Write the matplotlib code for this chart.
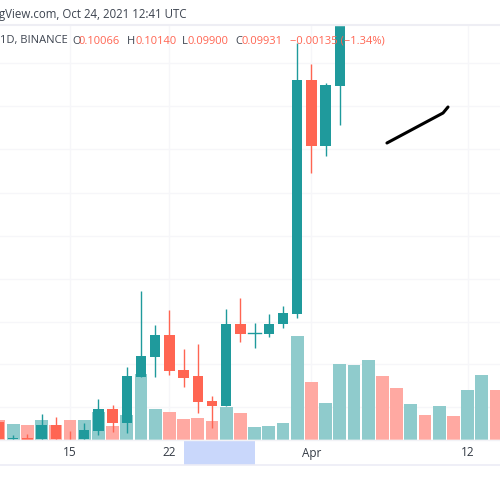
import matplotlib
matplotlib.use("Agg")
import matplotlib.pyplot as plt

plt.rcParams['font.family'] = ['Open Sans', 'DejaVu Sans']

TEAL = '#1f9a9c'
RED = '#ff6552'
VOL_TEAL = '#8fcbcc'
VOL_RED = '#ffa9a2'
GRID = '#f6f6f9'
FOOT = 440.0

# Day numbers counted from 1 March; prices and volumes in chart units
days = list(range(10, 35))
opens = [18, 1, 2, 1, 15, 0.5, 1, 9, 31, 17, 63, 83, 105, 70, 64, 39, 34, 116, 107, 106, 116, 126, 360, 294, 354]
closes = [1, 2.5, 0.5, 15, 1, 0, 10, 31, 17, 64, 84, 105, 69, 62, 38, 34, 116, 106, 107, 116, 127, 360, 294, 355, 460]
highs = [20, 5, 6, 26, 23, 9, 17, 41, 35, 73, 149, 115, 130, 91, 96, 44, 131, 142, 117, 126, 134, 397, 376, 357, 460]
lows = [0, 0, 0, 0, 0, 0, 0, 5, 8, 7, 63, 63, 65, 53, 27, 12, 34, 98, 92, 103, 112, 122, 267, 284, 315]

vol_days = list(range(10, 46))
vol_values = [20, 16, 15, 20, 15, 20, 20, 28, 14, 25, 66, 31, 28, 21, 22, 19, 33, 27,
              13, 14, 17, 104, 58, 37, 76, 75, 80, 64, 52, 36, 25, 34, 24, 50, 65, 50]
vol_up = [0, 1, 0, 1, 0, 0, 1, 1, 0, 1, 1, 1, 0, 0, 0, 0, 1, 0,
          1, 1, 1, 1, 0, 1, 1, 1, 1, 0, 0, 1, 0, 1, 0, 1, 1, 0]

grid_levels = [33, 76, 118, 161, 204, 247, 291, 334, 377]
tick_days = [15, 22, 32, 43]
tick_labels = ['15', '22', 'Apr', '12']
highlight_days = [23.0, 28.0]
drawing_days = [37.32, 41.27, 41.62]
drawing_levels = [297, 327, 333]

fig = plt.figure(figsize=(5, 5), dpi=100)
ax = fig.add_axes([0, 0, 1, 1])
d0 = 15 - 70 / 14.2
ax.set_xlim(d0, d0 + 500 / 14.2)
ax.set_ylim(FOOT - 500, FOOT)
ax.axis('off')

def px(x):
    return d0 + x / 14.2

for lv in grid_levels:
    ax.axhline(lv, color=GRID, lw=1.0, zorder=1)
for d in tick_days:
    ax.plot([d, d], [0, 415], color=GRID, lw=1.0, zorder=1)

# Volume
ax.bar(vol_days, vol_values, width=0.9,
       color=[VOL_TEAL if u else VOL_RED for u in vol_up], zorder=2)

# Candles
for d, o, h, l, c in zip(days, opens, highs, lows, closes):
    col = TEAL if c >= o else RED
    ax.plot([d, d], [l, h], color=col, lw=1.0, zorder=3, solid_capstyle='butt')
    lo, hi = min(o, c), max(o, c)
    ax.bar(d, hi - lo, bottom=lo, width=0.74, color=col, zorder=4)
# doji on day 28
ax.plot([27.55, 28.45], [107, 107], color=TEAL, lw=1.0, zorder=4)

# Hand-drawn trend stroke
ax.plot(drawing_days, drawing_levels, color='black', lw=2.2, zorder=6,
        solid_capstyle='round', solid_joinstyle='round')

# Header band covers what rises above the pane
ax.fill_between([d0, d0 + 36], 415, 440, color='white', zorder=5)
ax.axhline(415, color='#eeeef4', lw=1.5, zorder=6)

# Time axis band
ax.fill_between([d0, d0 + 36], -25, 0, color='white', zorder=5)
ax.fill_between(highlight_days, -25, 0, color='#c9d7fb', zorder=6, lw=0)
ax.axhline(0, color='#f2f2f6', lw=1, zorder=7)
ax.axhline(-25, color='#ececf6', lw=1.2, zorder=7)
for d, t in zip(tick_days, tick_labels):
    ax.text(d, -13, t, ha='center', va='center', fontsize=8.5, color='#333a44', zorder=8)

# Header texts
GREY = '#3d4450'
ax.text(px(-1), 425.5, 'gView.com, Oct 24, 2021 12:41 UTC', fontsize=8.3, color=GREY,
        va='center', ha='left', zorder=8)
y = 399
ax.text(px(0), y, '1D, BINANCE', fontsize=8.0, color=GREY, va='center', zorder=8)
segments = [(72, 'O', GREY), (79, '0.10066', RED), (127, 'H', GREY), (135, '0.10140', RED),
            (182, 'L', GREY), (188, '0.09900', RED), (235, 'C', GREY), (242, '0.09931', RED),
            (290, '\u22120.00135 (\u22121.34%)', RED)]
for x, s, col in segments:
    ax.text(px(x), y, s, fontsize=8.0, color=col, va='center', zorder=8)

fig.savefig('out.png', dpi=100)
